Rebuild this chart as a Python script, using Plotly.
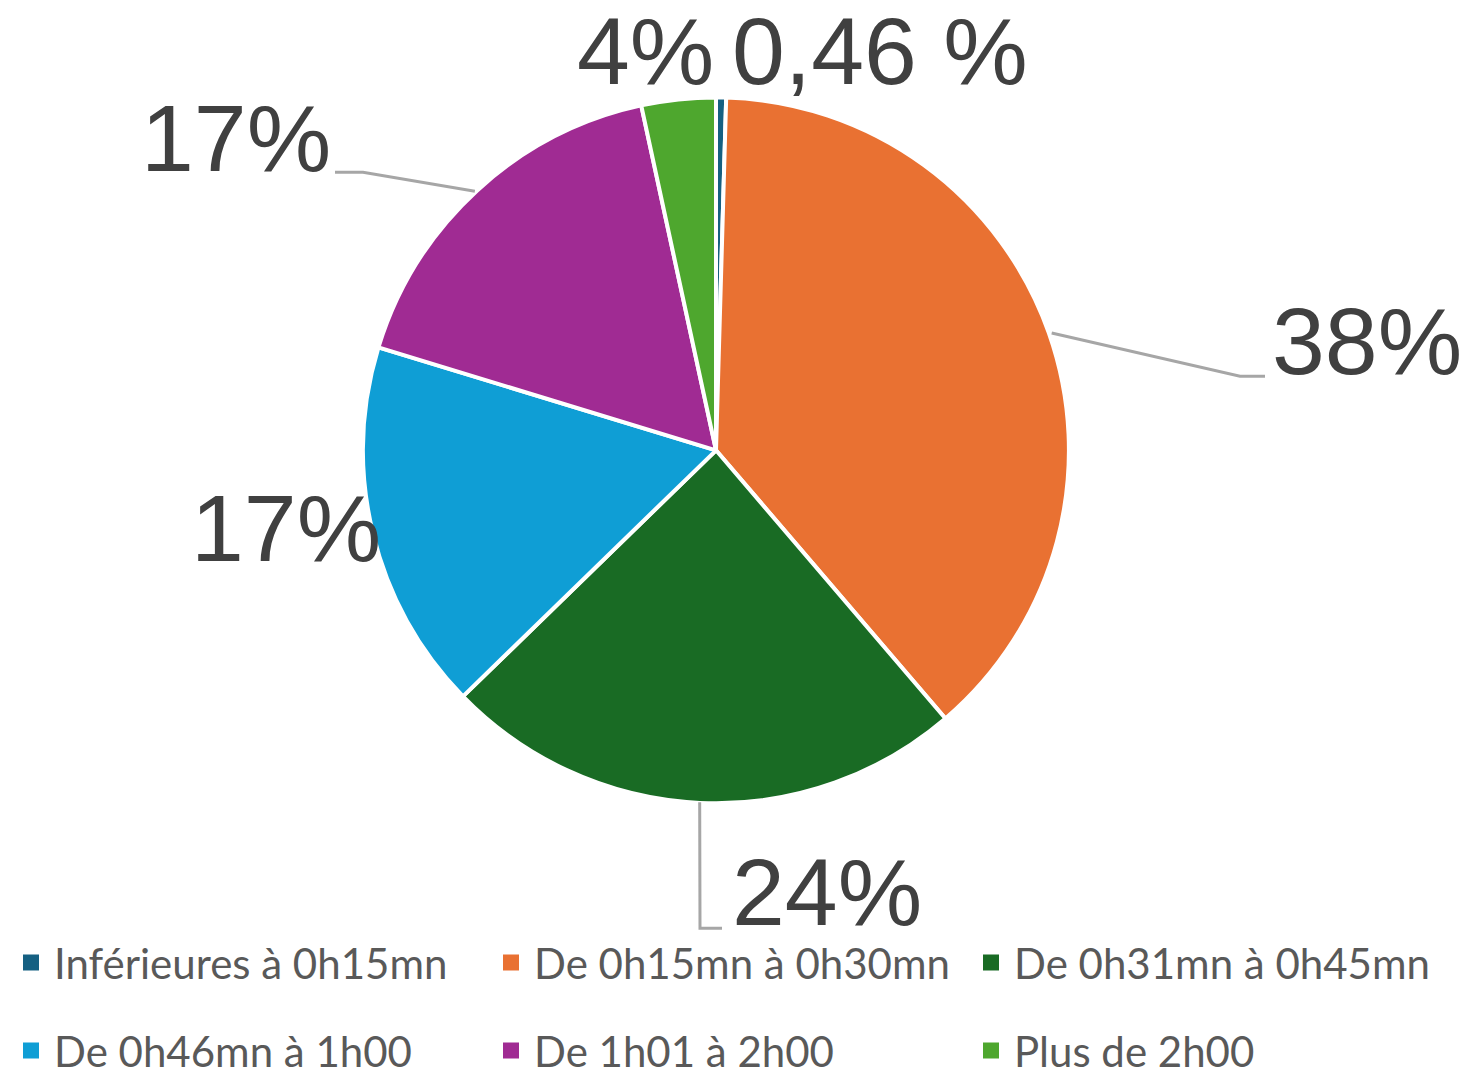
import math
import plotly.graph_objects as go

categories = ["Inférieures à 0h15mn", "De 0h15mn à 0h30mn", "De 0h31mn à 0h45mn",
              "De 0h46mn à 1h00", "De 1h01 à 2h00", "Plus de 2h00"]
values = [0.46, 38.3, 24.0, 17.0, 16.9, 3.4]
labels_txt = ["0,46 %", "38%", "24%", "17%", "17%", "4%"]
colors = ["#156082", "#E97132", "#196B24", "#0F9ED5", "#A02B93", "#4EA72E"]

# page has an 8px body margin; the capture is also squeezed a little vertically
OFF = 8
K = 0.9855
W, H = 1468 - OFF, 1085 - OFF
cx, cy, r = 716, 455, 356
r_dom = 362

# where each data label sits (left edge, vertical middle), in target pixels
label_pos = [(730, 51), (1270, 344), (730, 901), (189, 534), (139, 139), (575, 51)]
# leader line elbows (None = no line)
leader = [None, [(1240, 380), (1265, 380)], [(700, 938), (722, 938)], None,
          [(363, 174), (335, 174)], None]


def px(x, y):
    return (x - OFF) / W, 1 - (y / K - OFF) / H


cyf = cy / K - OFF
fig = go.Figure()
fig.add_trace(go.Pie(
    labels=categories, values=values, textinfo="none",
    sort=False, direction="clockwise", rotation=0,
    marker=dict(colors=colors, line=dict(color="white", width=4)),
    domain=dict(x=[(cx - OFF - r_dom) / W, (cx - OFF + r_dom) / W],
                y=[1 - (cyf + r_dom) / H, 1 - (cyf - r_dom) / H]),
    showlegend=False, hoverinfo="label+percent",
))

total = sum(values)
acc = 0
for i, v in enumerate(values):
    mid = (acc + v / 2) / total * 2 * math.pi
    acc += v
    lx, ly = px(*label_pos[i])
    fig.add_annotation(x=lx, y=ly, xref="paper", yref="paper", xanchor="left", yanchor="middle",
                       text=labels_txt[i], showarrow=False,
                       font=dict(family="Liberation Sans, Arial", size=95, color="#404040"))
    if leader[i]:
        pts = [(cx + r * math.sin(mid), cy - r * math.cos(mid))] + leader[i]
        path = "M " + " L ".join(f"{px(x, y)[0]},{px(x, y)[1]}" for x, y in pts)
        fig.add_shape(type="path", path=path, xref="paper", yref="paper",
                      line=dict(color="#A6A6A6", width=3))

# legend entries, split over two rows
for i, (name, col) in enumerate(zip(categories, colors)):
    fig.add_trace(go.Scatter(
        x=[None], y=[None], mode="markers", name=name,
        marker=dict(symbol="square", size=16, color=col),
        legend="legend" if i < 3 else "legend2",
    ))

leg = dict(orientation="h", x=0.0, xanchor="left", yanchor="middle",
           entrywidth=429, entrywidthmode="pixels", itemwidth=36,
           font=dict(family="Lato", size=42, color="#595959"),
           bgcolor="rgba(0,0,0,0)")
fig.update_layout(
    width=W, height=H, margin=dict(l=0, r=0, t=0, b=0),
    paper_bgcolor="white", plot_bgcolor="white",
    xaxis=dict(visible=False), yaxis=dict(visible=False),
    legend=dict(leg, y=px(0, 973)[1]),
    legend2=dict(leg, y=px(0, 1062)[1]),
)

fig.write_html("out.html")
